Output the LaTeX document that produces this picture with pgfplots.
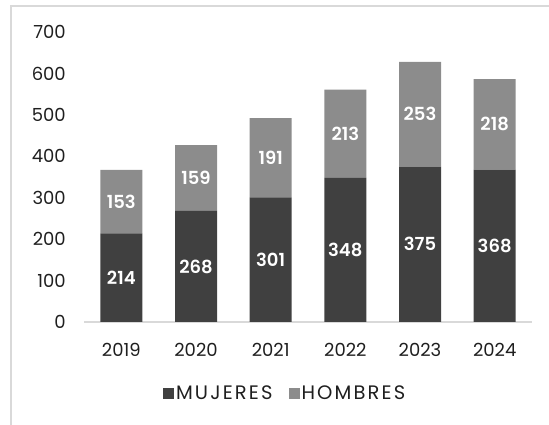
\documentclass[border=0pt]{standalone}
\usepackage{fontspec}
\setmainfont{Poppins}
\newfontfamily\semib{Poppins SemiBold}
\newfontfamily\legfont{Poppins}[LetterSpace=11]
\usepackage{pgfplots}
\pgfplotsset{compat=1.18}
\definecolor{cMuj}{HTML}{404040}
\definecolor{cHom}{HTML}{8C8C8C}
\definecolor{cLine}{HTML}{D9D9D9}
\definecolor{cTxt}{HTML}{1F1F1F}

\begin{document}
\begin{tikzpicture}[x=1pt,y=1pt]
\useasboundingbox (0,0) rectangle (549,425);
\draw[cLine, line width=1.5pt] (11,-2) -- (11,419) -- (551,419);
\begin{axis}[
  at={(84pt,103pt)}, anchor=south west,
  scale only axis, width=448pt, height=290pt,
  ybar stacked, bar width=42pt,
  xmin=-0.5, xmax=5.5, ymin=0, ymax=700,
  xtick={0,1,2,3,4,5}, xticklabels={2019,2020,2021,2022,2023,2024},
  ytick={0,100,...,700},
  /pgf/number format/assume math mode=true,
  axis x line=bottom, axis y line=left,
  x axis line style={-, cLine, line width=1.5pt},
  y axis line style={draw=none},
  major tick length=0pt,
  ticklabel style={font=\fontsize{18}{21}\selectfont, text=cTxt},
  yticklabel style={inner sep=0pt, xshift=-18pt},
  xticklabel style={inner sep=0pt, yshift=-21pt},
  nodes near coords,
  point meta=rawy,
  every node near coord/.append style={font=\semib\fontsize{18}{21}\selectfont, text=white, anchor=center},
  legend columns=2,
  legend style={at={(0.449,-0.245)}, anchor=center, draw=none, fill=none,
    font=\legfont\fontsize{19.5}{22}\selectfont, text=cTxt,
    /tikz/every even column/.append style={column sep=14pt}},
  legend image code/.code={\fill[#1] (0pt,-5.5pt) rectangle (11pt,5.5pt);},
]
\addplot[fill=cMuj, draw=none] coordinates {(0,214) (1,268) (2,301) (3,348) (4,375) (5,368)};
\addplot[fill=cHom, draw=none] coordinates {(0,153) (1,159) (2,191) (3,213) (4,253) (5,218)};
\legend{MUJERES,HOMBRES}
\end{axis}
\end{tikzpicture}
\end{document}
